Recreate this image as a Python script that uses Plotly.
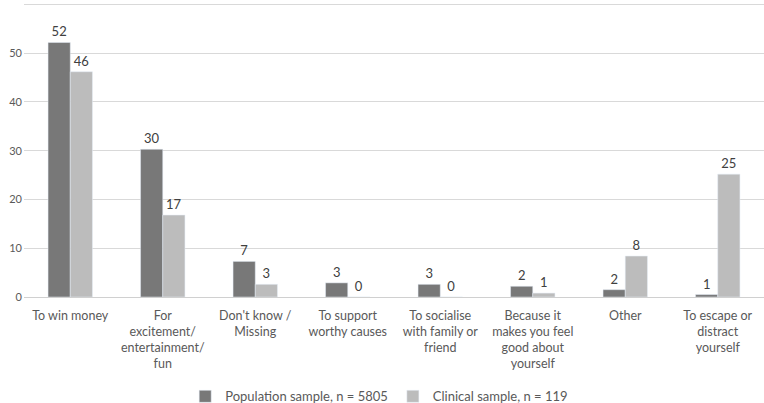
import plotly.graph_objects as go

categories = [
    "To win money",
    "For<br>excitement/<br>entertainment/<br>fun",
    "Don't know /<br>Missing",
    "To support<br>worthy causes",
    "To socialise<br>with family or<br>friend",
    "Because it<br>makes you feel<br>good about<br>yourself",
    "Other",
    "To escape or<br>distract<br>yourself",
]
population = [52.2, 30.3, 7.3, 2.9, 2.6, 2.2, 1.5, 0.5]
clinical = [46.2, 16.8, 2.6, 0.0, 0.0, 0.8, 8.4, 25.2]
pop_name = "Population sample, n = 5805"
clin_name = "Clinical sample, n = 119"
y_ticks = [0, 10, 20, 30, 40, 50, 60]

FONT = "Lato"
TXT = "#595959"

fig = go.Figure()
fig.add_bar(x=categories, y=population, name=pop_name, marker_color="#787878",
            texttemplate="%{y:.0f}", textposition="outside", cliponaxis=False,
            textfont=dict(size=13, color="#404040", family=FONT))
fig.add_bar(x=categories, y=clinical, name=clin_name, marker_color="#bcbcbc",
            texttemplate="%{y:.0f}", textposition="outside", cliponaxis=False,
            textfont=dict(size=13, color="#404040", family=FONT))

fig.update_layout(
    width=764, height=403,
    margin=dict(l=24, r=0, t=3, b=106, autoexpand=False),
    paper_bgcolor="white", plot_bgcolor="white",
    barmode="group", bargap=0.52, bargroupgap=0,
    font=dict(family=FONT, size=13, color=TXT),
    showlegend=True,
    legend=dict(orientation="h", x=0.48, xanchor="center",
                y=-0.338, yanchor="middle",
                font=dict(size=13, color=TXT, family=FONT), itemwidth=30,
                traceorder="normal"),
    yaxis=dict(range=[0, 60.3], tickvals=y_ticks, showgrid=True, gridcolor="#d9d9d9",
               gridwidth=1, zeroline=True, zerolinecolor="#d0d0d0", zerolinewidth=1,
               ticks="", ticklabelstandoff=1, automargin=False,
               tickfont=dict(size=11, color=TXT)),
    xaxis=dict(showline=False, ticks="", tickfont=dict(size=12.5, color=TXT),
               tickangle=0, automargin=False, ticklabelstandoff=9),
)

fig.write_html(
    "out.html",
    config={"displayModeBar": False},
    post_script="document.body.style.margin='0';document.body.style.overflow='hidden';",
)
